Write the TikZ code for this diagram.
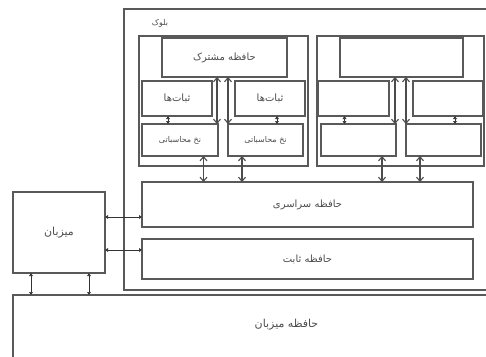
\documentclass[tikz,border=0pt]{standalone}
\usepackage{fontspec}
\usetikzlibrary{arrows.meta}
\newfontfamily\farsifont[Script=Arabic]{DejaVu Sans}
\TeXXeTstate=1
\newcommand{\fa}[1]{{\farsifont\beginR #1\endR}}

\begin{document}
\begin{tikzpicture}[x=1pt, y=-1pt,
  box/.style={draw=black!65, line width=1.2pt, rectangle, inner sep=0pt, outer sep=0pt,
    font=\fontsize{10}{11}\selectfont, text=black!70},
  dblarrow/.style={black!70, line width=1.1pt,
    {Straight Barb[length=4pt,width=7pt]}-{Straight Barb[length=4pt,width=7pt]}},
  tinyarrow/.style={black!80, line width=1pt,
    {Latex[length=3pt,width=4.5pt]}-{Latex[length=3pt,width=4.5pt]}}]

  \useasboundingbox (0,0) rectangle (486,356);
  \clip (0,0) rectangle (486,356);

  % block
  \node[box, minimum width=436, minimum height=281] (block) at (342,149.5) {};
  \node[font=\fontsize{8}{9}\selectfont, text=black!70] (blocklabel) at (160,23) {\fa{بلوک}};

  % multiprocessors
  \node[box, minimum width=169, minimum height=130] (mp1) at (223.5,101) {};
  \node[box, minimum width=167, minimum height=130] (mp2) at (400.5,101) {};

  \node[box, minimum width=125, minimum height=39] (sh1) at (224.5,57.5) {\fa{حافظه مشترک}};
  \node[box, minimum width=70, minimum height=35] (r11) at (177,98.5) {\fa{ثبات‌ها}};
  \node[box, minimum width=70, minimum height=35] (r12) at (270,98.5) {\fa{ثبات‌ها}};
  \node[box, minimum width=76, minimum height=32, font=\fontsize{8}{9}\selectfont] (p11) at (180,140) {\fa{نخ محاسباتی}};
  \node[box, minimum width=75, minimum height=32, font=\fontsize{8}{9}\selectfont] (p12) at (265.5,140) {\fa{نخ محاسباتی}};

  \node[box, minimum width=123, minimum height=39] (sh2) at (401.5,57.5) {};
  \node[box, minimum width=71, minimum height=35] (r21) at (353.5,98.5) {};
  \node[box, minimum width=70, minimum height=35] (r22) at (448,98.5) {};
  \node[box, minimum width=75, minimum height=32] (p21) at (358.5,140) {};
  \node[box, minimum width=75, minimum height=32] (p22) at (443.5,140) {};

  % memories
  \node[box, minimum width=331, minimum height=45] (global) at (307.5,204.5) {\fa{حافظه سراسری}};
  \node[box, minimum width=331, minimum height=40] (const) at (307.5,259) {\fa{حافظه ثابت}};

  % host
  \node[box, minimum width=92, minimum height=81, font=\fontsize{11}{12}\selectfont] (host) at (59,232.5) {\fa{میزبان}};
  \node[box, minimum width=547, minimum height=125,
    label={[anchor=center, yshift=-30pt, font=\fontsize{11}{12}\selectfont, text=black!70]north:{\farsifont\beginR حافظه میزبان\endR}}]
    (hostmem) at (286.5,357.5) {};

  \foreach \m in {1,2} {
    \coordinate (ra\m) at ([xshift=-9pt]r\m1.south);
    \coordinate (rb\m) at ([xshift=7pt]r\m2.south);
    \draw[tinyarrow] (ra\m) -- (ra\m |- p\m1.north);
    \draw[tinyarrow] (rb\m) -- (rb\m |- p\m2.north);

    \coordinate (sa\m) at ([xshift=-1pt]p\m1.north east);
    \coordinate (sb\m) at (p\m2.north west);
    \draw[dblarrow] (sh\m.south -| sa\m) -- (sa\m);
    \draw[dblarrow] (sh\m.south -| sb\m) -- (sb\m);

    \coordinate (ga\m) at ([xshift=23.5pt]p\m1.south);
    \coordinate (gb\m) at ([xshift=-23.5pt]p\m2.south);
    \draw[dblarrow] (ga\m) -- (ga\m |- global.north);
    \draw[dblarrow] (gb\m) -- (gb\m |- global.north);
  }

  \coordinate (hg) at ([yshift=15.5pt]host.east);
  \coordinate (hc) at ([yshift=-17.5pt]host.east);
  \draw[tinyarrow] (hg) -- (hg -| global.west);
  \draw[tinyarrow] (hc) -- (hc -| const.west);

  \coordinate (hm1) at ([xshift=-28pt]host.south);
  \coordinate (hm2) at ([xshift=30pt]host.south);
  \draw[tinyarrow] (hm1) -- (hm1 |- hostmem.north);
  \draw[tinyarrow] (hm2) -- (hm2 |- hostmem.north);

\end{tikzpicture}
\end{document}
